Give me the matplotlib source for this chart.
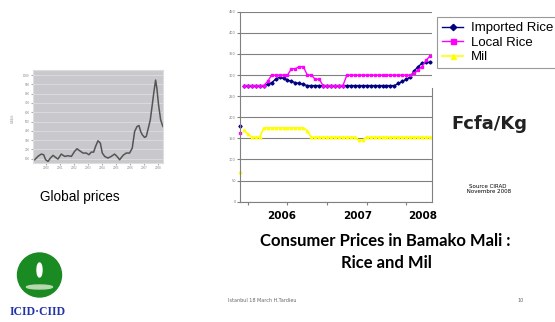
import matplotlib
matplotlib.use('Agg')
import numpy as np
import matplotlib.pyplot as plt
from matplotlib.patches import Circle, Ellipse

# Prix consommateurs Bamako (Fcfa/Kg), un point par mois
imported_rice = [275, 275, 275, 275, 275, 275,
                 278, 282, 290, 295, 292, 288, 285, 282, 280, 278,
                 275, 275, 275, 275, 275, 275, 275, 275, 275, 275, 275, 275,
                 275, 275, 275, 275, 275, 275, 275, 275, 275, 275, 275,
                 280, 285, 290, 295, 310, 320, 328, 330, 330]
local_rice = [275, 275, 275, 275, 275, 275, 285,
              300, 300, 300, 300, 300, 315, 315, 320, 320, 300, 300, 290, 290,
              275, 275, 275, 275, 275, 275,
              300, 300, 300, 300, 300, 300, 300, 300, 300, 300, 300, 300,
              300, 300, 300, 300, 300,
              305, 312, 320, 335, 345]
mil = [170, 160, 153, 153, 153,
       175, 175, 175, 175, 175, 175, 175, 175, 175, 175, 175, 168,
       153, 153, 153, 153, 153, 153, 153, 153, 153, 153, 153, 153,
       146, 146,
       153, 153, 153, 153, 153, 153, 153, 153, 153, 153, 153, 153, 153, 153, 153, 153, 153]
# premiers points isolés sur l'axe
start_imported = 180
start_local = 162
start_mil = 70
year_labels = ['2006', '2007', '2008']

# Prix mondiaux (petit graphique)
global_years = [1999.17, 1999.40, 1999.64, 1999.81, 1999.95, 2000.12, 2000.29, 2000.48,
                2000.67, 2000.83, 2001.07, 2001.31, 2001.55, 2001.79, 2002.02, 2002.19,
                2002.38, 2002.62, 2002.86, 2003.05, 2003.21, 2003.38, 2003.52, 2003.69,
                2003.86, 2004.00, 2004.17, 2004.40, 2004.64, 2004.88, 2005.05, 2005.24,
                2005.48, 2005.71, 2005.95, 2006.14, 2006.31, 2006.48, 2006.62, 2006.74,
                2006.86, 2007.02, 2007.14, 2007.26, 2007.43, 2007.57, 2007.69, 2007.81,
                2007.90, 2008.02, 2008.17, 2008.33]
global_price = [89, 125, 150, 143, 89, 71, 107, 136, 114, 96, 150, 125, 132, 125, 179, 207,
                186, 161, 161, 143, 171, 171, 232, 293, 268, 161, 125, 107, 125, 150, 125, 89,
                136, 161, 161, 214, 393, 446, 457, 393, 357, 329, 339, 411, 518, 679, 821, 946,
                857, 679, 518, 446]
global_ticks = ['2000', '2001', '2002', '2003', '2004', '2005', '2006', '2007', '2008']

fig = plt.figure(figsize=(5.55, 3.22), dpi=100)
fig.patch.set_facecolor('white')

# --- graphique principal ---
ax = fig.add_axes([0.4324, 0.3736, 0.346, 0.59])
x = np.arange(1, len(imported_rice) + 1)
ax.plot(x, imported_rice, color='#000080', marker='D', markersize=1.6, lw=1.0, label='Imported Rice')
ax.plot(x, local_rice, color='#ff00ff', marker='s', markersize=1.8, lw=1.0, label='Local Rice')
ax.plot(x, mil, color='#ffff00', marker='^', markersize=1.8, lw=1.2, label='Mil')
ax.plot([0], [start_imported], color='#000080', marker='D', markersize=1.6, ls='none', clip_on=False)
ax.plot([0], [start_local], color='#ff00ff', marker='s', markersize=1.8, ls='none', clip_on=False)
ax.plot([0], [start_mil], color='#ffff00', marker='^', markersize=1.8, ls='none', clip_on=False)

ax.set_xlim(0, 48.5)
ax.set_ylim(0, 450)
ax.set_yticks(np.arange(0, 451, 50))
ax.tick_params(axis='y', labelsize=2.5, labelcolor='#777777', length=2, color='#808080', pad=1)
ax.set_xticks([2, 12, 22, 32, 42])
ax.set_xticklabels(['', '', '', '', ''])
ax.tick_params(axis='x', length=2, color='#808080')
ax.yaxis.grid(True, color='#808080', lw=0.8)
ax.set_axisbelow(True)
for s in ['left', 'bottom', 'right']:
    ax.spines[s].set_color('#808080')
ax.spines['top'].set_visible(False)
ax.spines['right'].set_bounds(0, 270)

leg = ax.legend(loc='upper left', bbox_to_anchor=(0.787, 0.948), bbox_transform=fig.transFigure,
                fontsize=9.5, frameon=True, fancybox=False, edgecolor='#808080',
                handlelength=1.6, borderpad=0.4, labelspacing=0.17, handletextpad=0.6,
                markerscale=2.0, borderaxespad=0)
leg.get_frame().set_linewidth(0.8)
for t in leg.get_texts():
    t.set_family('Liberation Sans')

for lab, xp in zip(year_labels, [282, 358, 423]):
    fig.text(xp / 555, 1 - 216 / 322, lab, ha='center', va='center', fontsize=7.5,
             fontweight='bold', family='DejaVu Sans')

fig.text(385 / 555, 1 - 241 / 322, 'Consumer Prices in Bamako Mali :', ha='center', va='center',
         fontsize=12, fontweight='bold', family='Lato')
fig.text(386 / 555, 1 - 263 / 322, 'Rice and Mil', ha='center', va='center',
         fontsize=12, fontweight='bold', family='Lato')
fig.text(489 / 555, 1 - 124 / 322, 'Fcfa/Kg', ha='center', va='center', fontsize=13,
         fontweight='bold', family='DejaVu Sans', color='#222222')
fig.text(488 / 555, 1 - 189 / 322, 'Source CIRAD\n Novembre 2008', ha='center', va='center',
         fontsize=4, family='DejaVu Sans', linespacing=1.1)

# --- prix mondiaux ---
ax2 = fig.add_axes([0.0595, 0.4938, 0.234, 0.2888])
ax2.set_facecolor('#c9c9cd')
ax2.plot(global_years, global_price, color='#555555', lw=1.1)
ax2.set_xlim(1999.05, 2008.33)
ax2.set_ylim(54, 1054)
ax2.set_yticks(np.arange(100, 1001, 100))
ax2.set_xticks(np.arange(2000, 2009))
ax2.set_xticklabels(global_ticks)
ax2.yaxis.grid(True, color='#dedee2', lw=0.6)
ax2.tick_params(labelsize=2, labelcolor='#888888', length=1.5, color='#aaaaaa', pad=1)
for s in ax2.spines.values():
    s.set_color('#dddddd')
fig.text(12 / 555, 1 - 118 / 322, 'US$/t', rotation=90, ha='center', va='center',
         fontsize=2.5, color='#888888')
fig.text(80 / 555, 1 - 197 / 322, 'Global prices', ha='center', va='center', fontsize=9.8,
         family='Liberation Sans')

# --- logo et pied de page ---
lax = fig.add_axes([0, 0, 1, 1], zorder=-1)
lax.set_xlim(0, 555)
lax.set_ylim(322, 0)
lax.axis('off')
lax.add_patch(Circle((39.5, 275), 22, color='#1a8a22'))
lax.add_patch(Ellipse((39.5, 270), 5, 14, color='white'))
lax.add_patch(Ellipse((39.5, 287), 26, 4, color='#b8d8b0'))
fig.text(38 / 555, 1 - 312 / 322, 'ICID\u00b7CIID', ha='center', va='center', fontsize=8.5,
         fontweight='bold', family='Liberation Serif', color='#2233aa')
fig.text(262 / 555, 1 - 300 / 322, 'Istanbul 18 March H.Tardieu', ha='center', va='center',
         fontsize=3.5, color='#666666')
fig.text(521 / 555, 1 - 300 / 322, '10', ha='center', va='center', fontsize=3.5, color='#666666')

fig.savefig('out.png', dpi=100)
